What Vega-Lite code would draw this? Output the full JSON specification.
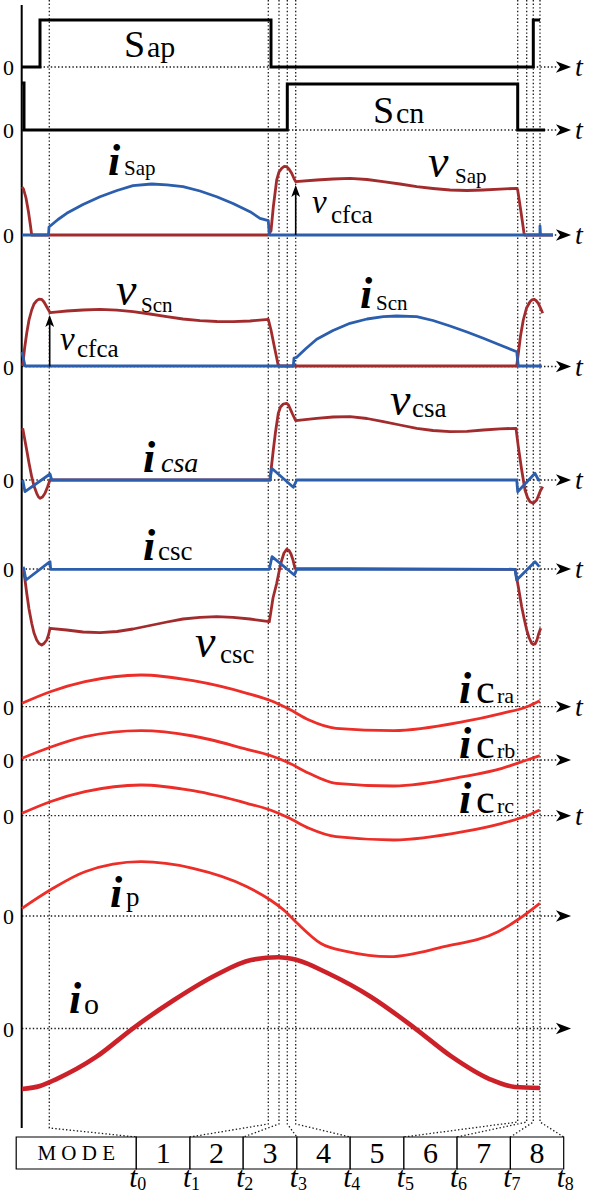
{
  "$schema": "https://vega.github.io/schema/vega-lite/v6.json",
  "width": 605,
  "height": 1196,
  "padding": 0,
  "autosize": {"type": "none"},
  "background": "white",
  "config": {"view": {"stroke": null}, "text": {"font": "Liberation Serif", "color": "black"}},
  "encoding": {
    "x": {"field": "t", "type": "quantitative", "scale": {"domain": [0, 605], "nice": false, "zero": false}, "axis": null},
    "y": {"field": "y", "type": "quantitative", "scale": {"domain": [0, 1196], "nice": false, "zero": false, "reverse": true}, "axis": null}
  },
  "datasets": {
    "guides": [
      {"g": 0, "t": 49.3, "y": 0}, {"g": 0, "t": 49.3, "y": 1128}, {"g": 0, "t": 136.3, "y": 1137},
      {"g": 1, "t": 268.3, "y": 0}, {"g": 1, "t": 268.3, "y": 1124}, {"g": 1, "t": 190, "y": 1137},
      {"g": 2, "t": 279, "y": 0}, {"g": 2, "t": 279, "y": 1124}, {"g": 2, "t": 243.2, "y": 1137},
      {"g": 3, "t": 287.3, "y": 0}, {"g": 3, "t": 287.3, "y": 1124}, {"g": 3, "t": 296.9, "y": 1137},
      {"g": 4, "t": 295.7, "y": 0}, {"g": 4, "t": 295.7, "y": 1124}, {"g": 4, "t": 350.2, "y": 1137},
      {"g": 5, "t": 517.7, "y": 0}, {"g": 5, "t": 517.7, "y": 1122}, {"g": 5, "t": 403.9, "y": 1137},
      {"g": 6, "t": 526.7, "y": 0}, {"g": 6, "t": 526.7, "y": 1122}, {"g": 6, "t": 457.1, "y": 1137},
      {"g": 7, "t": 533.3, "y": 0}, {"g": 7, "t": 533.3, "y": 1122}, {"g": 7, "t": 510.4, "y": 1137},
      {"g": 8, "t": 540, "y": 0}, {"g": 8, "t": 540, "y": 1122}, {"g": 8, "t": 563.7, "y": 1137}
    ],
    "zeros": [
      {"row": "Sap", "t": 22, "t2": 558, "tip": 563.5, "y": 67, "hasT": true},
      {"row": "Scn", "t": 22, "t2": 558, "tip": 563.5, "y": 130, "hasT": true},
      {"row": "iSap", "t": 22, "t2": 558, "tip": 563.5, "y": 235, "hasT": true},
      {"row": "vScn", "t": 22, "t2": 558, "tip": 563.5, "y": 366.5, "hasT": true},
      {"row": "vcsa", "t": 22, "t2": 558, "tip": 563.5, "y": 480, "hasT": true},
      {"row": "vcsc", "t": 22, "t2": 558, "tip": 563.5, "y": 569, "hasT": true},
      {"row": "icra", "t": 22, "t2": 558, "tip": 563.5, "y": 706.7, "hasT": true},
      {"row": "icrb", "t": 22, "t2": 558, "tip": 563.5, "y": 760, "hasT": false},
      {"row": "icrc", "t": 22, "t2": 558, "tip": 563.5, "y": 815.7, "hasT": true},
      {"row": "ip", "t": 22, "t2": 558, "tip": 563.5, "y": 916, "hasT": false},
      {"row": "io", "t": 22, "t2": 558, "tip": 563.5, "y": 1028.5, "hasT": false}
    ],
    "switching": [
      {"id": "Sap", "t": 22, "y": 67}, {"id": "Sap", "t": 40, "y": 67}, {"id": "Sap", "t": 40, "y": 20},
      {"id": "Sap", "t": 271, "y": 20}, {"id": "Sap", "t": 271, "y": 67}, {"id": "Sap", "t": 533.3, "y": 67},
      {"id": "Sap", "t": 533.3, "y": 20}, {"id": "Sap", "t": 540, "y": 20},
      {"id": "Scn", "t": 22, "y": 83}, {"id": "Scn", "t": 24, "y": 83}, {"id": "Scn", "t": 24, "y": 130},
      {"id": "Scn", "t": 287.3, "y": 130}, {"id": "Scn", "t": 287.3, "y": 84}, {"id": "Scn", "t": 517.7, "y": 84},
      {"id": "Scn", "t": 517.7, "y": 130}, {"id": "Scn", "t": 545, "y": 130}
    ],
    "voltages": [
      {"id": "vSap", "t": 22, "y": 187}, {"id": "vSap", "t": 23.5, "y": 189}, {"id": "vSap", "t": 26, "y": 198},
      {"id": "vSap", "t": 28.5, "y": 212}, {"id": "vSap", "t": 30.5, "y": 226}, {"id": "vSap", "t": 31.7, "y": 235},
      {"id": "vSap", "t": 268, "y": 235}, {"id": "vSap", "t": 271, "y": 231}, {"id": "vSap", "t": 273.3, "y": 207},
      {"id": "vSap", "t": 276.7, "y": 180}, {"id": "vSap", "t": 279, "y": 172}, {"id": "vSap", "t": 281.7, "y": 168.3},
      {"id": "vSap", "t": 284, "y": 166.5}, {"id": "vSap", "t": 286.7, "y": 166.7}, {"id": "vSap", "t": 289, "y": 169},
      {"id": "vSap", "t": 291.7, "y": 173.3}, {"id": "vSap", "t": 294, "y": 178.5}, {"id": "vSap", "t": 295.7, "y": 181.7},
      {"id": "vSap", "t": 316.7, "y": 180}, {"id": "vSap", "t": 333, "y": 179}, {"id": "vSap", "t": 350, "y": 178.3},
      {"id": "vSap", "t": 367, "y": 179.5}, {"id": "vSap", "t": 383, "y": 181.7}, {"id": "vSap", "t": 400, "y": 184},
      {"id": "vSap", "t": 416.7, "y": 186.7}, {"id": "vSap", "t": 433, "y": 188.5}, {"id": "vSap", "t": 450, "y": 190},
      {"id": "vSap", "t": 467, "y": 190.5}, {"id": "vSap", "t": 483, "y": 190}, {"id": "vSap", "t": 500, "y": 189.2},
      {"id": "vSap", "t": 516.7, "y": 188.3}, {"id": "vSap", "t": 517.7, "y": 190}, {"id": "vSap", "t": 521, "y": 212},
      {"id": "vSap", "t": 524, "y": 233}, {"id": "vSap", "t": 524.5, "y": 235}, {"id": "vSap", "t": 553, "y": 235},

      {"id": "vScn", "t": 22.7, "y": 366}, {"id": "vScn", "t": 24.5, "y": 349}, {"id": "vScn", "t": 26.7, "y": 333.3},
      {"id": "vScn", "t": 29, "y": 320}, {"id": "vScn", "t": 31.7, "y": 310}, {"id": "vScn", "t": 34, "y": 304},
      {"id": "vScn", "t": 36.7, "y": 300.7}, {"id": "vScn", "t": 39, "y": 299.2}, {"id": "vScn", "t": 41.7, "y": 299.3},
      {"id": "vScn", "t": 44, "y": 302}, {"id": "vScn", "t": 46.7, "y": 306.7}, {"id": "vScn", "t": 50, "y": 312.7},
      {"id": "vScn", "t": 58, "y": 311.8}, {"id": "vScn", "t": 66.7, "y": 311}, {"id": "vScn", "t": 83, "y": 310},
      {"id": "vScn", "t": 100, "y": 309.3}, {"id": "vScn", "t": 117, "y": 310.2}, {"id": "vScn", "t": 133, "y": 311.7},
      {"id": "vScn", "t": 150, "y": 314}, {"id": "vScn", "t": 166.7, "y": 316.7}, {"id": "vScn", "t": 183, "y": 319},
      {"id": "vScn", "t": 200, "y": 320.7}, {"id": "vScn", "t": 217, "y": 321.5}, {"id": "vScn", "t": 233.3, "y": 321.7},
      {"id": "vScn", "t": 250, "y": 321}, {"id": "vScn", "t": 268.3, "y": 319.3}, {"id": "vScn", "t": 271, "y": 330},
      {"id": "vScn", "t": 274, "y": 345}, {"id": "vScn", "t": 276.5, "y": 357}, {"id": "vScn", "t": 278.3, "y": 366},
      {"id": "vScn", "t": 516.7, "y": 366}, {"id": "vScn", "t": 518.5, "y": 352}, {"id": "vScn", "t": 520.5, "y": 336},
      {"id": "vScn", "t": 523.3, "y": 320}, {"id": "vScn", "t": 526.5, "y": 308}, {"id": "vScn", "t": 530, "y": 301.7},
      {"id": "vScn", "t": 532, "y": 299.8}, {"id": "vScn", "t": 534, "y": 299.3}, {"id": "vScn", "t": 536, "y": 300.5},
      {"id": "vScn", "t": 538.3, "y": 303.3}, {"id": "vScn", "t": 540.5, "y": 308}, {"id": "vScn", "t": 542.7, "y": 313.3},

      {"id": "vcsa", "t": 22.7, "y": 428.3}, {"id": "vcsa", "t": 24.5, "y": 438}, {"id": "vcsa", "t": 26.7, "y": 450},
      {"id": "vcsa", "t": 29, "y": 463}, {"id": "vcsa", "t": 31.7, "y": 476.7}, {"id": "vcsa", "t": 34, "y": 486},
      {"id": "vcsa", "t": 36.7, "y": 493.3}, {"id": "vcsa", "t": 38.5, "y": 497}, {"id": "vcsa", "t": 40, "y": 498.3},
      {"id": "vcsa", "t": 42.5, "y": 497}, {"id": "vcsa", "t": 45, "y": 493.3}, {"id": "vcsa", "t": 47.5, "y": 487},
      {"id": "vcsa", "t": 50, "y": 480}, {"id": "vcsa", "t": 270, "y": 480}, {"id": "vcsa", "t": 271.5, "y": 466},
      {"id": "vcsa", "t": 273.3, "y": 450}, {"id": "vcsa", "t": 275.5, "y": 432}, {"id": "vcsa", "t": 278.3, "y": 413.3},
      {"id": "vcsa", "t": 280.5, "y": 407}, {"id": "vcsa", "t": 283.3, "y": 404}, {"id": "vcsa", "t": 286.7, "y": 403.3},
      {"id": "vcsa", "t": 288.5, "y": 405}, {"id": "vcsa", "t": 290, "y": 408.3}, {"id": "vcsa", "t": 292.5, "y": 414},
      {"id": "vcsa", "t": 295.7, "y": 420.7}, {"id": "vcsa", "t": 316.7, "y": 418.3}, {"id": "vcsa", "t": 333, "y": 417},
      {"id": "vcsa", "t": 350, "y": 416.7}, {"id": "vcsa", "t": 367, "y": 418.5}, {"id": "vcsa", "t": 383.3, "y": 421.7},
      {"id": "vcsa", "t": 400, "y": 425}, {"id": "vcsa", "t": 416.7, "y": 428.3}, {"id": "vcsa", "t": 433, "y": 430.5},
      {"id": "vcsa", "t": 450, "y": 431.7}, {"id": "vcsa", "t": 467, "y": 431.3}, {"id": "vcsa", "t": 483.3, "y": 430},
      {"id": "vcsa", "t": 500, "y": 428.8}, {"id": "vcsa", "t": 516, "y": 428.3}, {"id": "vcsa", "t": 518.3, "y": 446.7},
      {"id": "vcsa", "t": 521.7, "y": 470}, {"id": "vcsa", "t": 525, "y": 490}, {"id": "vcsa", "t": 527.5, "y": 497.5},
      {"id": "vcsa", "t": 530, "y": 501.7}, {"id": "vcsa", "t": 533.3, "y": 503.3}, {"id": "vcsa", "t": 536.7, "y": 500},
      {"id": "vcsa", "t": 540, "y": 491.7}, {"id": "vcsa", "t": 542.7, "y": 486.7},

      {"id": "vcsc", "t": 23.3, "y": 568.3}, {"id": "vcsc", "t": 25, "y": 580}, {"id": "vcsc", "t": 26.7, "y": 593},
      {"id": "vcsc", "t": 29, "y": 609}, {"id": "vcsc", "t": 31.7, "y": 623.3}, {"id": "vcsc", "t": 34, "y": 633},
      {"id": "vcsc", "t": 36.7, "y": 640}, {"id": "vcsc", "t": 39, "y": 643.5}, {"id": "vcsc", "t": 41.7, "y": 645},
      {"id": "vcsc", "t": 44, "y": 643.5}, {"id": "vcsc", "t": 46.7, "y": 640}, {"id": "vcsc", "t": 48.5, "y": 635},
      {"id": "vcsc", "t": 50, "y": 628.3}, {"id": "vcsc", "t": 66.7, "y": 630}, {"id": "vcsc", "t": 83, "y": 632},
      {"id": "vcsc", "t": 100, "y": 632.7}, {"id": "vcsc", "t": 117, "y": 631.5}, {"id": "vcsc", "t": 133, "y": 629},
      {"id": "vcsc", "t": 150, "y": 625.5}, {"id": "vcsc", "t": 167, "y": 622}, {"id": "vcsc", "t": 183, "y": 619},
      {"id": "vcsc", "t": 200, "y": 617.3}, {"id": "vcsc", "t": 216.7, "y": 616.7}, {"id": "vcsc", "t": 233, "y": 617.3},
      {"id": "vcsc", "t": 250, "y": 619}, {"id": "vcsc", "t": 269.3, "y": 621.7}, {"id": "vcsc", "t": 271, "y": 611},
      {"id": "vcsc", "t": 273, "y": 598}, {"id": "vcsc", "t": 276.7, "y": 583.3}, {"id": "vcsc", "t": 279, "y": 572},
      {"id": "vcsc", "t": 281.5, "y": 561}, {"id": "vcsc", "t": 284, "y": 553}, {"id": "vcsc", "t": 286.7, "y": 549.3},
      {"id": "vcsc", "t": 289, "y": 550.5}, {"id": "vcsc", "t": 291, "y": 554}, {"id": "vcsc", "t": 293, "y": 560},
      {"id": "vcsc", "t": 295, "y": 568.3}, {"id": "vcsc", "t": 515, "y": 569.3}, {"id": "vcsc", "t": 516.7, "y": 578},
      {"id": "vcsc", "t": 518.3, "y": 586.7}, {"id": "vcsc", "t": 521.7, "y": 606.7}, {"id": "vcsc", "t": 524, "y": 618},
      {"id": "vcsc", "t": 526.7, "y": 630}, {"id": "vcsc", "t": 529, "y": 637.5}, {"id": "vcsc", "t": 531.7, "y": 643.3},
      {"id": "vcsc", "t": 533.3, "y": 644.5}, {"id": "vcsc", "t": 535, "y": 644}, {"id": "vcsc", "t": 537, "y": 640},
      {"id": "vcsc", "t": 538.3, "y": 635}, {"id": "vcsc", "t": 540.7, "y": 628.3}
    ],
    "currents": [
      {"id": "iSap", "t": 22, "y": 235}, {"id": "iSap", "t": 48.5, "y": 235}, {"id": "iSap", "t": 49, "y": 227},
      {"id": "iSap", "t": 58, "y": 219.5}, {"id": "iSap", "t": 66.7, "y": 213.3}, {"id": "iSap", "t": 83, "y": 204.5},
      {"id": "iSap", "t": 100, "y": 196.7}, {"id": "iSap", "t": 117, "y": 190.5}, {"id": "iSap", "t": 133, "y": 185.7},
      {"id": "iSap", "t": 151.7, "y": 184}, {"id": "iSap", "t": 167, "y": 184.8}, {"id": "iSap", "t": 183, "y": 186.7},
      {"id": "iSap", "t": 200, "y": 191}, {"id": "iSap", "t": 216.7, "y": 196.7}, {"id": "iSap", "t": 233, "y": 203.5},
      {"id": "iSap", "t": 250, "y": 211.7}, {"id": "iSap", "t": 260, "y": 218.3}, {"id": "iSap", "t": 268.3, "y": 220.7},
      {"id": "iSap", "t": 269.3, "y": 235}, {"id": "iSap", "t": 540, "y": 235}, {"id": "iSap", "t": 540, "y": 226},
      {"id": "iSap", "t": 540.5, "y": 235}, {"id": "iSap", "t": 553, "y": 235},

      {"id": "iScn", "t": 22, "y": 352}, {"id": "iScn", "t": 25, "y": 366}, {"id": "iScn", "t": 293.3, "y": 366},
      {"id": "iScn", "t": 294, "y": 358}, {"id": "iScn", "t": 296.7, "y": 357.3}, {"id": "iScn", "t": 306, "y": 348.5},
      {"id": "iScn", "t": 316.7, "y": 339.3}, {"id": "iScn", "t": 333, "y": 330.5}, {"id": "iScn", "t": 350, "y": 323.3},
      {"id": "iScn", "t": 367, "y": 319}, {"id": "iScn", "t": 383.3, "y": 316.7}, {"id": "iScn", "t": 396.7, "y": 316},
      {"id": "iScn", "t": 416.7, "y": 316.7}, {"id": "iScn", "t": 433, "y": 320.5}, {"id": "iScn", "t": 450, "y": 326},
      {"id": "iScn", "t": 467, "y": 332}, {"id": "iScn", "t": 483.3, "y": 338.3}, {"id": "iScn", "t": 500, "y": 345},
      {"id": "iScn", "t": 516.7, "y": 351.7}, {"id": "iScn", "t": 518.3, "y": 366}, {"id": "iScn", "t": 541.7, "y": 366},

      {"id": "icsa", "t": 22.7, "y": 480}, {"id": "icsa", "t": 25, "y": 491.7}, {"id": "icsa", "t": 50, "y": 474},
      {"id": "icsa", "t": 51.7, "y": 480}, {"id": "icsa", "t": 270, "y": 480}, {"id": "icsa", "t": 271.7, "y": 468.3},
      {"id": "icsa", "t": 293.3, "y": 487.3}, {"id": "icsa", "t": 296.7, "y": 480}, {"id": "icsa", "t": 516.7, "y": 480},
      {"id": "icsa", "t": 517.7, "y": 491.7}, {"id": "icsa", "t": 535, "y": 473.3}, {"id": "icsa", "t": 538.5, "y": 480},
      {"id": "icsa", "t": 540, "y": 480},

      {"id": "icsc", "t": 23.3, "y": 566.7}, {"id": "icsc", "t": 26, "y": 580}, {"id": "icsc", "t": 50, "y": 561.7},
      {"id": "icsc", "t": 50.7, "y": 569.3}, {"id": "icsc", "t": 269.3, "y": 569.3}, {"id": "icsc", "t": 272, "y": 556.7},
      {"id": "icsc", "t": 294.3, "y": 575}, {"id": "icsc", "t": 296.7, "y": 569.3}, {"id": "icsc", "t": 515, "y": 569.3},
      {"id": "icsc", "t": 516.7, "y": 580}, {"id": "icsc", "t": 535, "y": 561.7}, {"id": "icsc", "t": 539.3, "y": 566.7}
    ],
    "resonant": [
      {"id": "icra", "t": 22, "y": 703.3}, {"id": "icra", "t": 50.2, "y": 691.7}, {"id": "icra", "t": 85, "y": 681.7},
      {"id": "icra", "t": 141, "y": 675}, {"id": "icra", "t": 193, "y": 680.7}, {"id": "icra", "t": 247, "y": 693.3},
      {"id": "icra", "t": 270.3, "y": 700.5}, {"id": "icra", "t": 288, "y": 708.5}, {"id": "icra", "t": 309, "y": 720},
      {"id": "icra", "t": 336, "y": 728.3}, {"id": "icra", "t": 393.8, "y": 730.7}, {"id": "icra", "t": 463.3, "y": 721.7},
      {"id": "icra", "t": 502, "y": 713.3}, {"id": "icra", "t": 527, "y": 706.7}, {"id": "icra", "t": 539.8, "y": 700.7},

      {"id": "icrb", "t": 22, "y": 758.3}, {"id": "icrb", "t": 50.2, "y": 747.3}, {"id": "icrb", "t": 85, "y": 736.7},
      {"id": "icrb", "t": 141, "y": 730.7}, {"id": "icrb", "t": 193, "y": 736}, {"id": "icrb", "t": 247, "y": 749.3},
      {"id": "icrb", "t": 270.3, "y": 755.5}, {"id": "icrb", "t": 288, "y": 762.5}, {"id": "icrb", "t": 309, "y": 773.3},
      {"id": "icrb", "t": 336, "y": 783.3}, {"id": "icrb", "t": 393.8, "y": 786}, {"id": "icrb", "t": 463.3, "y": 776.7},
      {"id": "icrb", "t": 502, "y": 768.3}, {"id": "icrb", "t": 527, "y": 760}, {"id": "icrb", "t": 539.8, "y": 755.7},

      {"id": "icrc", "t": 22, "y": 813.3}, {"id": "icrc", "t": 50.2, "y": 801.7}, {"id": "icrc", "t": 85, "y": 791.7},
      {"id": "icrc", "t": 141, "y": 785}, {"id": "icrc", "t": 193, "y": 790.7}, {"id": "icrc", "t": 247, "y": 803.3},
      {"id": "icrc", "t": 270.3, "y": 810}, {"id": "icrc", "t": 288, "y": 817.5}, {"id": "icrc", "t": 309, "y": 828.3},
      {"id": "icrc", "t": 336, "y": 836.7}, {"id": "icrc", "t": 393.8, "y": 840}, {"id": "icrc", "t": 463.3, "y": 831.7},
      {"id": "icrc", "t": 502, "y": 823.3}, {"id": "icrc", "t": 527, "y": 815.7}, {"id": "icrc", "t": 539.8, "y": 810},

      {"id": "ip", "t": 22, "y": 908.3}, {"id": "ip", "t": 50.2, "y": 890}, {"id": "ip", "t": 85, "y": 871.7},
      {"id": "ip", "t": 141, "y": 861.7}, {"id": "ip", "t": 193, "y": 868.3}, {"id": "ip", "t": 247, "y": 886.7},
      {"id": "ip", "t": 270.3, "y": 900}, {"id": "ip", "t": 285.7, "y": 911.7}, {"id": "ip", "t": 297.3, "y": 923.3},
      {"id": "ip", "t": 320.5, "y": 943.3}, {"id": "ip", "t": 347.5, "y": 951.7}, {"id": "ip", "t": 390, "y": 956.7},
      {"id": "ip", "t": 444, "y": 946.7}, {"id": "ip", "t": 498, "y": 931.7}, {"id": "ip", "t": 517.4, "y": 920},
      {"id": "ip", "t": 539.8, "y": 903.3}
    ],
    "output": [
      {"t": 22, "y": 1089}, {"t": 40, "y": 1086}, {"t": 56, "y": 1079.3}, {"t": 96.5, "y": 1056.7},
      {"t": 133, "y": 1028.3}, {"t": 174, "y": 1000}, {"t": 216, "y": 975}, {"t": 251, "y": 960},
      {"t": 278, "y": 957.3}, {"t": 297, "y": 960}, {"t": 328, "y": 973.3}, {"t": 370.7, "y": 996.7},
      {"t": 415, "y": 1028.3}, {"t": 451.7, "y": 1056.7}, {"t": 490, "y": 1079.3}, {"t": 515, "y": 1087},
      {"t": 540, "y": 1088}
    ],
    "cfcaArrows": [
      {"id": "a", "t": 295.7, "y": 235}, {"id": "a", "t": 295.7, "y": 192},
      {"id": "b", "t": 49.7, "y": 366.5}, {"id": "b", "t": 49.7, "y": 322}
    ],
    "cfcaHeads": [{"t": 295.7, "y": 191}, {"t": 49.7, "y": 321}],
    "cells": [
      {"txt": "M O D E", "t": 16.2, "t2": 136.3, "tc": 76.2, "y": 1137, "y2": 1169},
      {"txt": "1", "t": 136.3, "t2": 190, "tc": 163.2, "y": 1137, "y2": 1169},
      {"txt": "2", "t": 190, "t2": 243.2, "tc": 216.6, "y": 1137, "y2": 1169},
      {"txt": "3", "t": 243.2, "t2": 296.9, "tc": 270.1, "y": 1137, "y2": 1169},
      {"txt": "4", "t": 296.9, "t2": 350.2, "tc": 323.6, "y": 1137, "y2": 1169},
      {"txt": "5", "t": 350.2, "t2": 403.9, "tc": 377.1, "y": 1137, "y2": 1169},
      {"txt": "6", "t": 403.9, "t2": 457.1, "tc": 430.5, "y": 1137, "y2": 1169},
      {"txt": "7", "t": 457.1, "t2": 510.4, "tc": 483.8, "y": 1137, "y2": 1169},
      {"txt": "8", "t": 510.4, "t2": 563.7, "tc": 537.1, "y": 1137, "y2": 1169}
    ],
    "instants": [
      {"k": "0", "t": 136.3, "y": 1169}, {"k": "1", "t": 190, "y": 1169}, {"k": "2", "t": 243.2, "y": 1169},
      {"k": "3", "t": 296.9, "y": 1169}, {"k": "4", "t": 350.2, "y": 1169}, {"k": "5", "t": 403.9, "y": 1169},
      {"k": "6", "t": 457.1, "y": 1169}, {"k": "7", "t": 510.4, "y": 1169}, {"k": "8", "t": 563.7, "y": 1169}
    ],
    "bigS": [{"txt": "S", "t": 124, "y": 57}, {"txt": "S", "t": 373, "y": 123}],
    "bigSsub": [{"txt": "ap", "t": 147, "y": 57}, {"txt": "cn", "t": 396, "y": 123}],
    "bigV": [
      {"txt": "v", "t": 428, "y": 177}, {"txt": "v", "t": 116, "y": 305},
      {"txt": "v", "t": 390, "y": 415}, {"txt": "v", "t": 195, "y": 657}
    ],
    "smallV": [{"txt": "v", "t": 312, "y": 213}, {"txt": "v", "t": 60, "y": 350}],
    "boldI": [
      {"txt": "i", "t": 108, "y": 175}, {"txt": "i", "t": 360, "y": 308},
      {"txt": "i", "t": 143, "y": 472}, {"txt": "i", "t": 143, "y": 560},
      {"txt": "i", "t": 459, "y": 703}, {"txt": "i", "t": 459, "y": 758}, {"txt": "i", "t": 459, "y": 813},
      {"txt": "i", "t": 110, "y": 907}, {"txt": "i", "t": 69, "y": 1013}
    ],
    "switchSub": [
      {"txt": "Sap", "t": 124, "y": 175}, {"txt": "Sap", "t": 455, "y": 183},
      {"txt": "Scn", "t": 141, "y": 312}, {"txt": "Scn", "t": 376, "y": 310}
    ],
    "cfcaSub": [{"txt": "cfca", "t": 331, "y": 223}, {"txt": "cfca", "t": 77, "y": 357}],
    "capSub": [
      {"txt": "csa", "t": 412, "y": 417}, {"txt": "csc", "t": 158, "y": 560}, {"txt": "csc", "t": 220, "y": 663}
    ],
    "capSubItalic": [{"txt": "csa", "t": 161, "y": 472}],
    "bigC": [{"txt": "c", "t": 476, "y": 703}, {"txt": "c", "t": 476, "y": 758}, {"txt": "c", "t": 476, "y": 813}],
    "resSub": [{"txt": "ra", "t": 497, "y": 703}, {"txt": "rb", "t": 497, "y": 758}, {"txt": "rc", "t": 497, "y": 813}],
    "pSub": [{"txt": "p", "t": 126, "y": 906}],
    "oSub": [{"txt": "o", "t": 84, "y": 1014}]
  },
  "layer": [
    {
      "data": {"name": "guides"},
      "mark": {"type": "line", "color": "#1a1a1a", "strokeWidth": 1.3, "strokeDash": [1.4, 2.2]},
      "encoding": {"detail": {"field": "g"}, "order": {"value": null}}
    },
    {
      "data": {"name": "zeros"},
      "mark": {"type": "rule", "color": "#1a1a1a", "strokeWidth": 1.3, "strokeDash": [1.4, 2.2]},
      "encoding": {"x2": {"field": "t2"}}
    },
    {
      "data": {"name": "zeros"},
      "mark": {"type": "point", "shape": "M1,0L-1,-0.75L-0.45,0L-1,0.75Z", "filled": true, "color": "black", "opacity": 1, "size": 230, "strokeWidth": 0},
      "encoding": {"x": {"field": "tip", "type": "quantitative"}}
    },
    {
      "data": {"name": "zeros"},
      "transform": [{"filter": "datum.hasT"}],
      "mark": {"type": "text", "text": "t", "fontStyle": "italic", "fontSize": 28, "align": "left", "baseline": "alphabetic", "dx": 17, "dy": 9},
      "encoding": {"x": {"field": "t2", "type": "quantitative"}}
    },
    {
      "data": {"name": "zeros"},
      "mark": {"type": "text", "text": "0", "fontSize": 22, "align": "center", "baseline": "middle", "dx": -13.5, "dy": 1}
    },
    {
      "data": {"values": [{"t": 21.7, "y": 5, "y2": 1128}]},
      "mark": {"type": "rule", "color": "black", "strokeWidth": 2},
      "encoding": {"y2": {"field": "y2"}}
    },
    {
      "data": {"name": "voltages"},
      "mark": {"type": "line", "color": "#a22c2d", "strokeWidth": 2.8, "strokeJoin": "round"},
      "encoding": {"detail": {"field": "id"}, "order": {"value": null}}
    },
    {
      "data": {"name": "currents"},
      "mark": {"type": "line", "color": "#2b5ead", "strokeWidth": 2.8, "strokeJoin": "round"},
      "encoding": {"detail": {"field": "id"}, "order": {"value": null}}
    },
    {
      "data": {"name": "switching"},
      "mark": {"type": "line", "color": "black", "strokeWidth": 3, "strokeJoin": "miter", "strokeCap": "butt"},
      "encoding": {"detail": {"field": "id"}, "order": {"value": null}}
    },
    {
      "data": {"name": "resonant"},
      "mark": {"type": "line", "color": "#ec2d28", "strokeWidth": 2.8, "interpolate": "monotone"},
      "encoding": {"detail": {"field": "id"}}
    },
    {
      "data": {"name": "output"},
      "mark": {"type": "line", "color": "#cc2129", "strokeWidth": 4.6, "interpolate": "monotone"}
    },
    {
      "data": {"name": "cfcaArrows"},
      "mark": {"type": "line", "color": "black", "strokeWidth": 1.6},
      "encoding": {"detail": {"field": "id"}, "order": {"value": null}}
    },
    {
      "data": {"name": "cfcaHeads"},
      "mark": {"type": "point", "shape": "M0,-1L0.75,1L0,0.5L-0.75,1Z", "filled": true, "color": "black", "opacity": 1, "size": 140, "strokeWidth": 0}
    },
    {
      "data": {"name": "bigS"},
      "mark": {"type": "text", "fontSize": 38, "align": "left", "baseline": "alphabetic"},
      "encoding": {"text": {"field": "txt"}}
    },
    {
      "data": {"name": "bigSsub"},
      "mark": {"type": "text", "fontSize": 30, "align": "left", "baseline": "alphabetic"},
      "encoding": {"text": {"field": "txt"}}
    },
    {
      "data": {"name": "bigV"},
      "mark": {"type": "text", "fontSize": 46, "fontStyle": "italic", "align": "left", "baseline": "alphabetic"},
      "encoding": {"text": {"field": "txt"}}
    },
    {
      "data": {"name": "smallV"},
      "mark": {"type": "text", "fontSize": 33, "fontStyle": "italic", "align": "left", "baseline": "alphabetic"},
      "encoding": {"text": {"field": "txt"}}
    },
    {
      "data": {"name": "boldI"},
      "mark": {"type": "text", "fontSize": 44, "fontStyle": "italic", "fontWeight": "bold", "align": "left", "baseline": "alphabetic"},
      "encoding": {"text": {"field": "txt"}}
    },
    {
      "data": {"name": "switchSub"},
      "mark": {"type": "text", "fontSize": 21, "align": "left", "baseline": "alphabetic"},
      "encoding": {"text": {"field": "txt"}}
    },
    {
      "data": {"name": "cfcaSub"},
      "mark": {"type": "text", "fontSize": 25, "align": "left", "baseline": "alphabetic"},
      "encoding": {"text": {"field": "txt"}}
    },
    {
      "data": {"name": "capSub"},
      "mark": {"type": "text", "fontSize": 27, "align": "left", "baseline": "alphabetic"},
      "encoding": {"text": {"field": "txt"}}
    },
    {
      "data": {"name": "capSubItalic"},
      "mark": {"type": "text", "fontSize": 28, "fontStyle": "italic", "align": "left", "baseline": "alphabetic"},
      "encoding": {"text": {"field": "txt"}}
    },
    {
      "data": {"name": "bigC"},
      "mark": {"type": "text", "fontSize": 42, "align": "left", "baseline": "alphabetic"},
      "encoding": {"text": {"field": "txt"}}
    },
    {
      "data": {"name": "resSub"},
      "mark": {"type": "text", "fontSize": 22, "align": "left", "baseline": "alphabetic"},
      "encoding": {"text": {"field": "txt"}}
    },
    {
      "data": {"name": "pSub"},
      "mark": {"type": "text", "fontSize": 27, "align": "left", "baseline": "alphabetic"},
      "encoding": {"text": {"field": "txt"}}
    },
    {
      "data": {"name": "oSub"},
      "mark": {"type": "text", "fontSize": 30, "align": "left", "baseline": "alphabetic"},
      "encoding": {"text": {"field": "txt"}}
    },
    {
      "data": {"name": "cells"},
      "mark": {"type": "rect", "fill": "white", "stroke": "black", "strokeWidth": 1.2},
      "encoding": {"x2": {"field": "t2"}, "y2": {"field": "y2"}}
    },
    {
      "data": {"name": "cells"},
      "transform": [{"filter": "datum.txt != 'M O D E'"}],
      "mark": {"type": "text", "fontSize": 30, "align": "center", "baseline": "middle", "dy": 17},
      "encoding": {"x": {"field": "tc", "type": "quantitative"}, "text": {"field": "txt"}}
    },
    {
      "data": {"name": "cells"},
      "transform": [{"filter": "datum.txt == 'M O D E'"}],
      "mark": {"type": "text", "fontSize": 21, "align": "center", "baseline": "middle", "dy": 17},
      "encoding": {"x": {"field": "tc", "type": "quantitative"}, "text": {"field": "txt"}}
    },
    {
      "data": {"name": "instants"},
      "mark": {"type": "text", "text": "t", "fontSize": 29, "fontStyle": "italic", "align": "right", "baseline": "alphabetic", "dx": 1, "dy": 18}
    },
    {
      "data": {"name": "instants"},
      "mark": {"type": "text", "fontSize": 18, "align": "left", "baseline": "alphabetic", "dx": 1, "dy": 21},
      "encoding": {"text": {"field": "k"}}
    }
  ]
}
